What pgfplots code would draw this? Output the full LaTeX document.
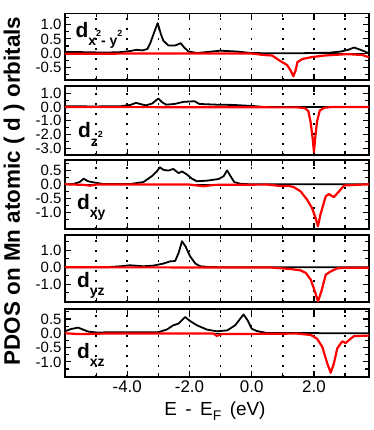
\documentclass[border=0pt]{standalone}
\usepackage{pgfplots}
\pgfplotsset{compat=1.18}
\usepackage{fontspec}
\setmainfont{Liberation Sans}
\definecolor{dn}{HTML}{FF0000}

\newcommand{\sq}{\raisebox{9bp}{\fontsize{9}{9}\selectfont 2}}
\newcommand{\dlab}[1]{\fontsize{21}{21}\selectfont\bfseries d\raisebox{-8.5bp}{\fontsize{14}{14}\selectfont #1}}

\pgfplotsset{
  panel/.style={
    scale only axis, width=304bp, anchor=north west,
    xmin=-6, xmax=3.77,
    xtick={-4,-2,0,2}, minor xtick={-5,-3,-1,1,3},
    xticklabels={},
    xmajorgrids, xminorgrids, ymajorgrids=false, yminorgrids=false,
    major grid style={black, line width=1.5bp, dash pattern=on 2bp off 8bp},
    minor grid style={black, line width=1.5bp, dash pattern=on 2bp off 8bp},
    axis line style={line width=1.5bp},
    tick style={black, line width=1.2bp},
    major tick length=6bp, minor tick length=4bp,
    tick align=inside,
    ytick pos=both,
    yticklabel style={font=\fontsize{15}{15}\selectfont},
    xticklabel style={font=\fontsize{17}{17}\selectfont},
    /pgf/number format/.cd, fixed, fixed zerofill, precision=1, assume math mode=true,
  },
  zl/.style={black, line width=1bp},
  up/.style={black, line width=1.8bp, line join=round},
  dw/.style={dn, line width=2.2bp, line join=round},
}

\begin{document}
\begin{tikzpicture}
\path[use as bounding box] (0,0) rectangle (374bp,-430bp);

% d_{x2-y2}
\begin{axis}[panel, at={(65bp,-13.3bp)}, height=66.7bp,
  ymin=-0.93, ymax=1.39, ytick={-0.5,0,0.5,1.0},
  minor ytick={-0.75,-0.25,0.25,0.75,1.25}]
\addplot[zl] coordinates {(-6,0)(3.77,0)};
\addplot[up] coordinates {(-6.0,0.05)(-5.5,0.04)(-5.0,0.03)(-4.5,0.03)(-4.2,0.04)(-3.9,0.08)(-3.7,0.12)(-3.5,0.1)(-3.35,0.15)(-3.25,0.38)(-3.11,0.8)(-3.02,1.05)(-2.92,0.67)(-2.84,0.44)(-2.68,0.27)(-2.46,0.27)(-2.28,0.35)(-2.17,0.2)(-2.03,0.06)(-1.76,0.01)(-1.55,0.03)(-1.01,0.09)(-0.47,0.06)(-0.04,0.01)(0.5,0.0)(1.5,0.0)(2.5,0.02)(2.86,0.06)(3.1,0.12)(3.29,0.2)(3.5,0.12)(3.77,0.0)};
\addplot[dw] coordinates {(-6.0,-0.02)(-5.0,-0.02)(-4.0,-0.01)(-3.0,-0.01)(-2.0,-0.01)(-1.0,-0.01)(0.0,-0.01)(0.39,-0.06)(0.66,-0.08)(0.82,-0.2)(0.98,-0.31)(1.14,-0.41)(1.25,-0.6)(1.34,-0.8)(1.41,-0.6)(1.47,-0.31)(1.63,-0.2)(1.9,-0.14)(2.32,-0.08)(3.07,-0.03)(3.56,-0.06)(3.77,-0.14)};
\end{axis}

% d_{z2}
\begin{axis}[panel, at={(65bp,-86bp)}, height=69bp,
  ymin=-3.5, ymax=1.53, ytick={-3,-2,-1,0,1},
  minor ytick={-2.5,-1.5,-0.5,0.5,1.5}]
\addplot[zl] coordinates {(-6,0)(3.77,0)};
\addplot[up] coordinates {(-6.0,0.05)(-5.0,0.04)(-4.2,0.06)(-3.9,0.15)(-3.72,0.3)(-3.55,0.2)(-3.4,0.12)(-3.2,0.25)(-3.0,0.62)(-2.88,0.35)(-2.75,0.17)(-2.48,0.22)(-2.2,0.37)(-2.0,0.4)(-1.84,0.42)(-1.68,0.22)(-1.14,0.17)(-0.6,0.15)(0.04,0.07)(0.4,0.0)(3.77,0.0)};
\addplot[dw] coordinates {(-6.0,0)(1.5,-0.03)(1.72,-0.1)(1.82,-0.3)(1.89,-1.05)(1.96,-2.3)(2.0,-3.3)(2.04,-2.3)(2.1,-1.05)(2.19,-0.25)(2.35,-0.05)(2.6,0)(3.77,0)};
\end{axis}

% d_{xy}
\begin{axis}[panel, at={(65bp,-160bp)}, height=69bp,
  ymin=-1.6, ymax=0.87, ytick={-1,-0.5,0,0.5},
  minor ytick={-1.25,-0.75,-0.25,0.25,0.75}]
\addplot[zl] coordinates {(-6,0)(3.77,0)};
\addplot[up] coordinates {(-6.0,0.0)(-5.74,0.01)(-5.53,0.08)(-5.4,0.2)(-5.26,0.11)(-5.04,0.06)(-4.77,0.01)(-3.91,0.01)(-3.48,0.08)(-3.21,0.29)(-3.05,0.46)(-2.95,0.61)(-2.84,0.52)(-2.68,0.49)(-2.52,0.55)(-2.35,0.4)(-2.24,0.46)(-2.08,0.35)(-1.92,0.2)(-1.76,0.11)(-1.44,0.13)(-1.06,0.19)(-0.9,0.29)(-0.79,0.5)(-0.68,0.29)(-0.56,0.08)(-0.37,0.02)(-0.04,0.0)(3.77,0.0)};
\addplot[dw] coordinates {(-6.0,0)(-5.4,-0.02)(-5.2,-0.05)(-5.0,-0.01)(-2.0,-0.01)(-1.55,-0.07)(-1.2,-0.02)(0.5,-0.01)(0.92,-0.06)(1.2,-0.06)(1.35,-0.1)(1.57,-0.25)(1.78,-0.55)(1.94,-0.85)(2.05,-1.2)(2.13,-1.5)(2.21,-1.08)(2.38,-0.43)(2.48,-0.35)(2.64,-0.46)(2.81,-0.25)(2.97,-0.04)(3.77,0)};
\end{axis}

% d_{yz}
\begin{axis}[panel, at={(65bp,-235bp)}, height=67bp,
  ymin=-2.04, ymax=1.9, ytick={-1,0,1},
  minor ytick={-1.5,-0.5,0.5,1.5}]
\addplot[zl] coordinates {(-6,0)(3.77,0)};
\addplot[up] coordinates {(-6.0,0)(-4.6,0.01)(-4.23,0.06)(-3.91,0.12)(-3.48,0.06)(-3.16,0.1)(-2.84,0.22)(-2.62,0.35)(-2.46,0.37)(-2.35,0.84)(-2.24,1.53)(-2.13,1.24)(-1.98,0.65)(-1.81,0.22)(-1.65,0.06)(-1.33,0.01)(3.77,0)};
\addplot[dw] coordinates {(-6.0,0)(0.6,-0.01)(1.25,-0.1)(1.57,-0.18)(1.74,-0.33)(1.9,-0.73)(2.03,-1.41)(2.13,-2.0)(2.24,-1.41)(2.38,-0.43)(2.54,-0.24)(2.75,-0.06)(3.08,-0.02)(3.77,-0.02)};
\end{axis}

% d_{xz}
\begin{axis}[panel, at={(65bp,-309bp)}, height=68bp,
  ymin=-1.53, ymax=0.85, ytick={-1,-0.5,0,0.5},
  minor ytick={-1.25,-0.75,-0.25,0.25,0.75},
  xticklabels={-4.0,-2.0,0.0,2.0}]
\addplot[zl] coordinates {(-6,0)(3.77,0)};
\addplot[up] coordinates {(-6.0,0.07)(-5.8,0.15)(-5.58,0.2)(-5.42,0.13)(-5.26,0.06)(-4.99,0.03)(-3.0,0.04)(-2.73,0.13)(-2.52,0.28)(-2.35,0.34)(-2.14,0.57)(-1.98,0.43)(-1.76,0.28)(-1.44,0.13)(-1.12,0.07)(-0.79,0.1)(-0.53,0.28)(-0.37,0.51)(-0.26,0.66)(-0.13,0.45)(0.0,0.16)(0.16,0.08)(0.49,0.01)(3.77,0)};
\addplot[dw] coordinates {(-6.0,0)(-5.5,-0.03)(-4.77,-0.01)(-1.23,-0.01)(-1.12,-0.09)(-0.96,-0.03)(1.46,-0.01)(1.9,-0.06)(2.1,-0.19)(2.27,-0.48)(2.43,-1.06)(2.54,-1.38)(2.64,-1.06)(2.75,-0.53)(2.91,-0.28)(3.02,-0.34)(3.18,-0.19)(3.29,-0.1)(3.77,-0.08)};
\end{axis}

% panel labels
\node[anchor=base west, inner sep=0] at (75.5bp,-37bp) {\dlab{x\sq- y\sq}};
\node[anchor=base west, inner sep=0] at (78bp,-137.7bp) {\dlab{z\sq}};
\node[anchor=base west, inner sep=0] at (77bp,-209bp) {\dlab{xy}};
\node[anchor=base west, inner sep=0] at (77bp,-287bp) {\dlab{yz}};
\node[anchor=base west, inner sep=0] at (77bp,-358bp) {\dlab{xz}};

% axis titles
\node[rotate=90, inner sep=0, font=\fontsize{22.5}{22.5}\selectfont\bfseries] at (14bp,-191bp) {PDOS on Mn atomic ( d ) orbitals};
\node[anchor=base, inner sep=0, font=\fontsize{19}{19}\selectfont] at (215bp,-415bp) {E\, -\, E\raisebox{-5bp}{\fontsize{14}{14}\selectfont F}\, (eV)};
\end{tikzpicture}
\end{document}
